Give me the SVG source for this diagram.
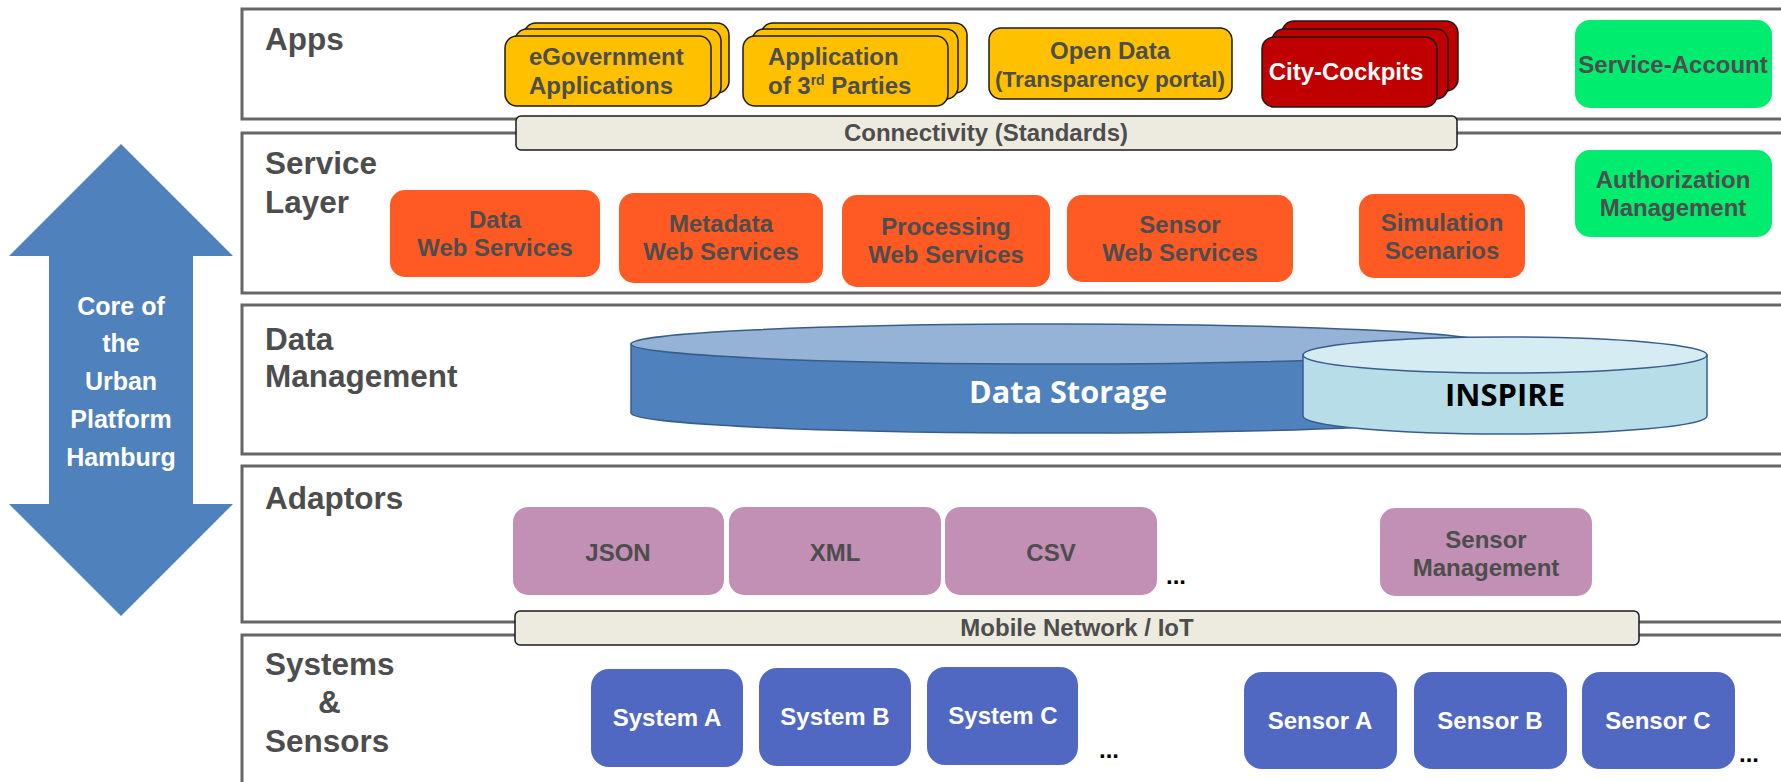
<svg xmlns="http://www.w3.org/2000/svg" width="1781" height="782" viewBox="0 0 1781 782">
<style>
.layer{fill:#fff;stroke:#666;stroke-width:3}
.title{font-family:"Liberation Sans",Arial,sans-serif;font-weight:bold;font-size:31.5px;fill:#4D4D4D}
.t{font-family:"Liberation Sans",Arial,sans-serif;font-weight:bold;font-size:24px;fill:#4D4D4D;text-anchor:middle}
.tw{fill:#fff}
.ts{text-anchor:start}
.small{font-size:22.5px}
.app{fill:#FFC000;stroke:#1a1a1a;stroke-width:1.5}
.city{fill:#C00000;stroke:#1a1a1a;stroke-width:1.5}
.green{fill:#00EC6E}
.svc{fill:#FF5A24}
.adp{fill:#C190B4}
.sys{fill:#5168C3}
.bar{fill:#EDEBE0;stroke:#1a1a1a;stroke-width:1.5}
.dots{font-family:"Liberation Sans",Arial,sans-serif;font-weight:bold;font-size:24px;fill:#000}
.cyl{font-family:"Open Sans","Noto Sans",sans-serif;font-weight:bold;font-size:31px;text-anchor:middle}
</style>

<g id="core-arrow">
<polygon points="121,144 233,256 193,256 193,504 233,504 121,616 9,504 49,504 49,256 9,256" fill="#4F81BD"/>
<g font-family="Liberation Sans,Arial,sans-serif" font-weight="bold" font-size="25" fill="#fff" text-anchor="middle">
<text x="121" y="315">Core of</text>
<text x="121" y="352">the</text>
<text x="121" y="390">Urban</text>
<text x="121" y="428">Platform</text>
<text x="121" y="466">Hamburg</text>
</g>
</g>

<g id="layers">
<rect class="layer" x="242" y="9" width="1600" height="110"/>
<rect class="layer" x="242" y="133" width="1600" height="160"/>
<rect class="layer" x="242" y="305" width="1600" height="149"/>
<rect class="layer" x="242" y="466" width="1600" height="156"/>
<rect class="layer" x="242" y="635" width="1600" height="300"/>
<text class="title" x="265" y="50">Apps</text>
<text class="title" x="265" y="174">Service</text>
<text class="title" x="265" y="213">Layer</text>
<text class="title" x="265" y="350">Data</text>
<text class="title" x="265" y="387">Management</text>
<text class="title" x="265" y="509">Adaptors</text>
<text class="title" x="265" y="675">Systems</text>
<text class="title" x="318" y="713">&amp;</text>
<text class="title" x="265" y="752">Sensors</text>
</g>

<g id="connectors">
<g id="connectivity-bar">
<rect class="bar" x="516" y="116" width="941" height="34" rx="5"/>
<text class="t" x="986" y="141">Connectivity (Standards)</text>
</g>
<g id="mobile-bar">
<rect class="bar" x="515" y="611" width="1124" height="34" rx="5"/>
<text class="t" x="1077" y="636">Mobile Network / IoT</text>
</g>
</g>

<g id="egov">
<rect class="app" x="524" y="23" width="205" height="70" rx="12"/>
<rect class="app" x="515" y="29" width="206" height="70" rx="12"/>
<rect class="app" x="505" y="36" width="206" height="70" rx="12"/>
<text class="t ts" x="529" y="65">eGovernment</text>
<text class="t ts" x="529" y="94">Applications</text>
</g>
<g id="third-parties">
<rect class="app" x="761" y="23" width="206" height="70" rx="12"/>
<rect class="app" x="752" y="29" width="206" height="70" rx="12"/>
<rect class="app" x="743" y="36" width="205" height="70" rx="12"/>
<text class="t ts" x="768" y="65">Application</text>
<text class="t ts" x="768" y="94">of 3<tspan style="font-size:14px" dy="-9">rd</tspan><tspan dy="9"> Parties</tspan></text>
</g>
<g id="open-data">
<rect class="app" x="989" y="28" width="243" height="71" rx="12"/>
<text class="t" x="1110" y="59">Open Data</text>
<text class="t small" x="1110" y="87">(Transparency portal)</text>
</g>
<g id="city-cockpits">
<rect class="city" x="1282" y="21" width="176" height="70" rx="12"/>
<rect class="city" x="1272" y="29" width="176" height="70" rx="12"/>
<rect class="city" x="1262" y="37" width="175" height="70" rx="12"/>
<text class="t tw" x="1346" y="80">City-Cockpits</text>
</g>
<g id="service-account">
<rect class="green" x="1575" y="20" width="197" height="88" rx="15"/>
<text class="t" x="1673" y="73">Service-Account</text>
</g>
<g id="authorization">
<rect class="green" x="1575" y="150" width="197" height="87" rx="15"/>
<text class="t" x="1673" y="188">Authorization</text>
<text class="t" x="1673" y="216">Management</text>
</g>

<g id="data-ws">
<rect class="svc" x="390" y="190" width="210" height="87" rx="15"/>
<text class="t" x="495" y="228">Data</text>
<text class="t" x="495" y="256">Web Services</text>
</g>
<g id="metadata-ws">
<rect class="svc" x="619" y="193" width="204" height="90" rx="15"/>
<text class="t" x="721" y="232">Metadata</text>
<text class="t" x="721" y="260">Web Services</text>
</g>
<g id="processing-ws">
<rect class="svc" x="842" y="195" width="208" height="92" rx="15"/>
<text class="t" x="946" y="235">Processing</text>
<text class="t" x="946" y="263">Web Services</text>
</g>
<g id="sensor-ws">
<rect class="svc" x="1067" y="195" width="226" height="87" rx="15"/>
<text class="t" x="1180" y="233">Sensor</text>
<text class="t" x="1180" y="261">Web Services</text>
</g>
<g id="simulation">
<rect class="svc" x="1359" y="194" width="166" height="84" rx="15"/>
<text class="t" x="1442" y="231">Simulation</text>
<text class="t" x="1442" y="259">Scenarios</text>
</g>

<g id="data-storage">
<path d="M631,344 L631,413 A429,20 0 0 0 1489,413 L1489,344 Z" fill="#4F81BD" stroke="#385D8A" stroke-width="1.5"/>
<ellipse cx="1060" cy="344" rx="429" ry="20" fill="#95B3D7" stroke="#385D8A" stroke-width="1.5"/>
<text class="cyl" x="1068" y="403" fill="#fff" textLength="198" lengthAdjust="spacingAndGlyphs">Data Storage</text>
</g>
<g id="inspire">
<path d="M1303,355 L1303,416 A202,18 0 0 0 1707,416 L1707,355 Z" fill="#B7DEE8" stroke="#385D8A" stroke-width="1.5"/>
<ellipse cx="1505" cy="355" rx="202" ry="18" fill="#D4ECF2" stroke="#385D8A" stroke-width="1.5"/>
<text class="cyl" x="1505" y="406" fill="#000" textLength="120" lengthAdjust="spacingAndGlyphs">INSPIRE</text>
</g>

<g id="json">
<rect class="adp" x="513" y="507" width="211" height="88" rx="15"/>
<text class="t" x="618" y="561">JSON</text>
</g>
<g id="xml">
<rect class="adp" x="729" y="507" width="212" height="88" rx="15"/>
<text class="t" x="835" y="561">XML</text>
</g>
<g id="csv">
<rect class="adp" x="945" y="507" width="212" height="88" rx="15"/>
<text class="t" x="1051" y="561">CSV</text>
</g>
<text class="dots" x="1166" y="584">...</text>
<g id="sensor-management">
<rect class="adp" x="1380" y="508" width="212" height="88" rx="15"/>
<text class="t" x="1486" y="548">Sensor</text>
<text class="t" x="1486" y="576">Management</text>
</g>

<g id="system-a">
<rect class="sys" x="591" y="669" width="152" height="98" rx="18"/>
<text class="t tw" x="667" y="726">System A</text>
</g>
<g id="system-b">
<rect class="sys" x="759" y="668" width="152" height="98" rx="18"/>
<text class="t tw" x="835" y="725">System B</text>
</g>
<g id="system-c">
<rect class="sys" x="927" y="667" width="151" height="98" rx="18"/>
<text class="t tw" x="1003" y="724">System C</text>
</g>
<text class="dots" x="1099" y="758">...</text>
<g id="sensor-a">
<rect class="sys" x="1244" y="672" width="153" height="97" rx="18"/>
<text class="t tw" x="1320" y="729">Sensor A</text>
</g>
<g id="sensor-b">
<rect class="sys" x="1414" y="672" width="153" height="97" rx="18"/>
<text class="t tw" x="1490" y="729">Sensor B</text>
</g>
<g id="sensor-c">
<rect class="sys" x="1582" y="672" width="153" height="97" rx="18"/>
<text class="t tw" x="1658" y="729">Sensor C</text>
</g>
<text class="dots" x="1739" y="762">...</text>
</svg>
